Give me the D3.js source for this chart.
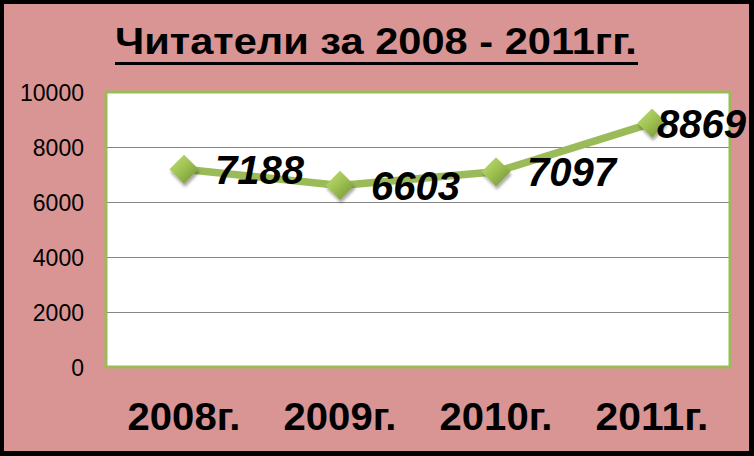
<!DOCTYPE html>
<html>
<head>
<meta charset="utf-8">
<script src="https://cdn.jsdelivr.net/npm/d3@7"></script>
<style>
  body { margin: 0; background: #000; }
  svg { display: block; }
</style>
</head>
<body>
<div id="chart"></div>
<script>
// chart data
var years = ["2008г.", "2009г.", "2010г.", "2011г."]
var readers = [7188, 6603, 7097, 8869]
var yTicks = [0, 2000, 4000, 6000, 8000, 10000]
var title = "Читатели за 2008 - 2011гг."

var width = 754,
    height = 456

// plot area
var plot = { left: 106, right: 730, top: 92, bottom: 367 }

var svg = d3.select("#chart")
    .append("svg")
        .attr("width", width)
        .attr("height", height)

// black frame + pink background
svg.append("rect")
    .attr("width", width).attr("height", height)
    .attr("fill", "#000")
svg.append("rect")
    .attr("x", 4).attr("y", 4)
    .attr("width", 745).attr("height", 447)
    .attr("fill", "#D99594")

var defs = svg.append("defs")
var grad = defs.append("linearGradient")
    .attr("id", "diamondFill")
    .attr("x1", "0%").attr("y1", "0%")
    .attr("x2", "100%").attr("y2", "100%")
grad.append("stop").attr("offset", "0%").attr("stop-color", "#C4E07A")
grad.append("stop").attr("offset", "50%").attr("stop-color", "#9CBF4F")
grad.append("stop").attr("offset", "100%").attr("stop-color", "#6E8C33")

var shadow = defs.append("filter")
    .attr("id", "shadow")
    .attr("x", "-50%").attr("y", "-50%")
    .attr("width", "200%").attr("height", "200%")
shadow.append("feDropShadow")
    .attr("dx", 1).attr("dy", 3)
    .attr("stdDeviation", 1.5)
    .attr("flood-color", "#000")
    .attr("flood-opacity", 0.35)

// squeeze/stretch a text node horizontally so it covers `w` px, anchored at x0
function fitWidth(sel, x0, w, anchor) {
    sel.each(function(){
        var node = d3.select(this)
        var tw = this.getComputedTextLength()
        var s = w / tw
        var base = node.attr("transform") || ""
        node.attr("text-anchor", anchor)
            .attr("x", 0)
            .attr("transform", base + " translate(" + x0(this) + ",0) scale(" + s + ",1)")
    })
}

// scales
var x = d3.scaleBand()
    .domain(years)
    .range([plot.left, plot.right])

var y = d3.scaleLinear()
    .domain([0, 10000])
    .range([plot.bottom, plot.top])

// plot background
svg.append("rect")
    .attr("x", plot.left).attr("y", plot.top)
    .attr("width", plot.right - plot.left)
    .attr("height", plot.bottom - plot.top)
    .attr("fill", "#fff")

// gridlines
svg.append("g")
    .selectAll("line")
    .data(yTicks.filter(function(d){ return d > 0 && d < 10000 }))
    .enter()
    .append("line")
        .attr("x1", plot.left).attr("x2", plot.right)
        .attr("y1", function(d){ return Math.round(y(d)) + 0.5 })
        .attr("y2", function(d){ return Math.round(y(d)) + 0.5 })
        .attr("stroke", "#868686")
        .attr("stroke-width", 1)

// green border of plot area
svg.append("rect")
    .attr("x", plot.left).attr("y", plot.top)
    .attr("width", plot.right - plot.left)
    .attr("height", plot.bottom - plot.top)
    .attr("fill", "none")
    .attr("stroke", "#9BBB59")
    .attr("stroke-width", 3)

// y axis labels
var yAxis = svg.append("g")
    .attr("transform", "translate(84,0)")
    .call(d3.axisLeft(y).tickValues(yTicks).tickFormat(d3.format("d")).tickSize(0).tickPadding(0))
yAxis.select(".domain").remove()
yAxis.selectAll("text")
    .attr("font-family", "'Liberation Sans', Arial, sans-serif")
    .attr("font-size", "23px")
    .attr("fill", "#000")
    .attr("dy", "0.36em")

// x axis labels
var xAxis = svg.append("g")
    .attr("transform", "translate(0,430)")
    .call(d3.axisBottom(x).tickSize(0).tickPadding(0))
xAxis.select(".domain").remove()
xAxis.selectAll("text")
    .attr("font-family", "'Liberation Sans', Arial, sans-serif")
    .attr("font-weight", "bold")
    .attr("font-size", "38px")
    .attr("fill", "#000")
    .attr("dy", 0)
    .call(fitWidth, function(){ return 0 }, 113, "middle")

// line
var line = d3.line()
    .x(function(d, i){ return x(years[i]) + x.bandwidth() / 2 })
    .y(function(d){ return y(d) })

svg.append("path")
    .datum(readers)
    .attr("d", line)
    .attr("fill", "none")
    .attr("stroke", "#9BBB59")
    .attr("stroke-width", 7.5)
    .attr("stroke-linejoin", "round")

// diamond markers
svg.append("g")
    .selectAll("path")
    .data(readers)
    .enter()
    .append("path")
        .attr("d", d3.symbol().type(d3.symbolDiamond2).size(540))
        .attr("transform", function(d, i){
            return "translate(" + (x(years[i]) + x.bandwidth() / 2) + "," + y(d) + ")"
        })
        .attr("fill", "url(#diamondFill)")
        .attr("filter", "url(#shadow)")

// data labels, kept inside the frame
svg.append("g")
    .selectAll("text")
    .data(readers)
    .enter()
    .append("text")
        .attr("font-family", "'Liberation Sans', Arial, sans-serif")
        .attr("font-weight", "bold")
        .attr("font-style", "italic")
        .attr("font-size", "40px")
        .attr("fill", "#000")
        .attr("dy", "0.36em")
        .attr("y", function(d){ return y(d) })
        .text(function(d){ return d })
        .attr("x", function(d, i){
            var cx = x(years[i]) + x.bandwidth() / 2
            var w = this.getComputedTextLength()
            return Math.min(cx + 31, 746 - w)
        })

// title
svg.append("text")
    .attr("y", 54)
    .attr("font-family", "'Liberation Sans', Arial, sans-serif")
    .attr("font-weight", "bold")
    .attr("font-size", "37px")
    .attr("fill", "#000")
    .text(title)
    .call(fitWidth, function(){ return 115 }, 522, "start")

svg.append("rect")
    .attr("x", 115).attr("y", 62)
    .attr("width", 523).attr("height", 3)
    .attr("fill", "#000")
</script>
</body>
</html>
